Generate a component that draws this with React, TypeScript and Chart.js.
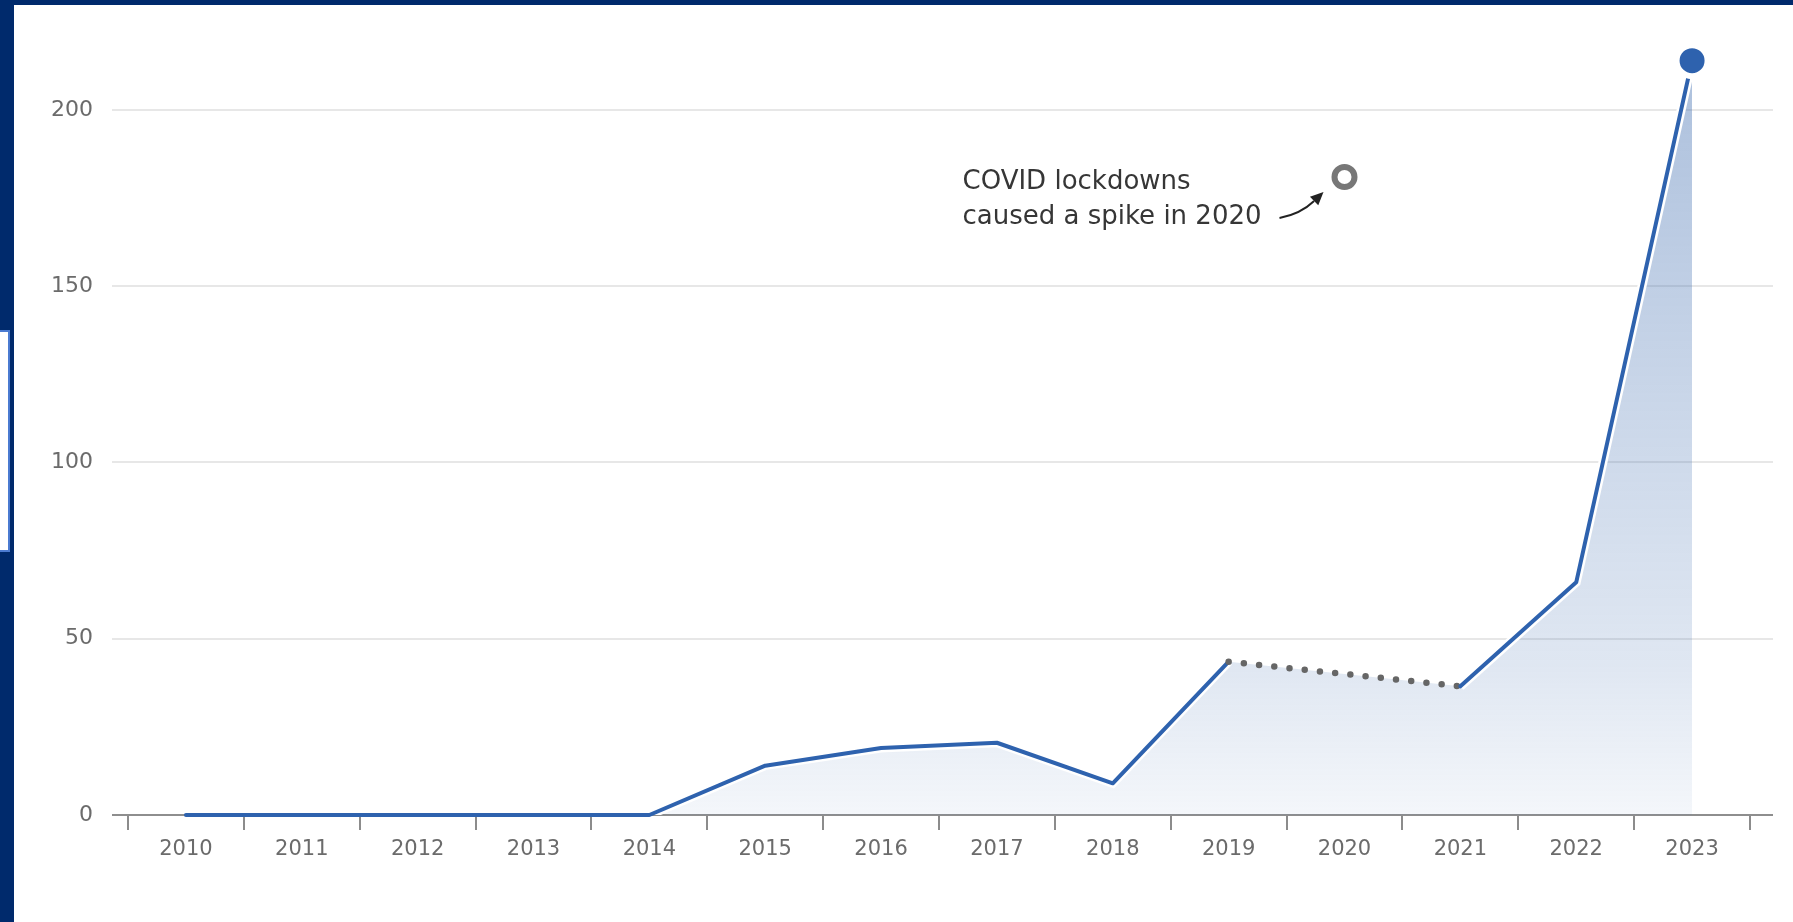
import React, { useEffect, useRef } from "react";
import { Chart, registerables } from "chart.js";

Chart.register(...registerables);

// ---- data ----
const years = ["2010", "2011", "2012", "2013", "2014", "2015", "2016", "2017", "2018", "2019", "2020", "2021", "2022", "2023"];
const values: (number | null)[] = [0, 0, 0, 0, 0, 14, 19, 20.5, 9, 43.5, null, 36.5, 66, 214];
const covidYear = "2020";
const covidValue = 181;
const yTickValues = [0, 50, 100, 150, 200];
const yMax = 220;
const annotationLines = ["COVID lockdowns", "caused a spike in 2020"];

const covidSeries = years.map((y) => (y === covidYear ? covidValue : null));

const BLUE = "rgb(46,98,174)";
const NAVY = "#002a6c";
const FONT = "'DejaVu Sans', sans-serif";

const isGap = (ctx: any) =>
  ctx.p1DataIndex - ctx.p0DataIndex > 1 ||
  values[ctx.p0DataIndex] == null ||
  values[ctx.p1DataIndex] == null;

const gridPlugin = {
  id: "gridPlugin",
  beforeDatasetsDraw(chart: any) {
    const { ctx, chartArea, scales } = chart;
    const y = scales.y;
    const x0 = chartArea.left - 16;
    const x1 = chartArea.right + 23;
    ctx.save();
    ctx.lineWidth = 2;
    ctx.strokeStyle = "#e7e7e7";
    yTickValues.forEach((v) => {
      if (v === 0) return;
      const py = Math.round(y.getPixelForValue(v));
      ctx.beginPath();
      ctx.moveTo(x0, py);
      ctx.lineTo(x1, py);
      ctx.stroke();
    });
    const p0 = Math.round(y.getPixelForValue(0));
    ctx.strokeStyle = "#8e8e8e";
    ctx.beginPath();
    ctx.moveTo(x0, p0);
    ctx.lineTo(x1, p0);
    ctx.stroke();
    ctx.restore();
  },
};

const annotationPlugin = {
  id: "annotationPlugin",
  afterDatasetsDraw(chart: any) {
    const { ctx } = chart;
    const meta = chart.getDatasetMeta(0);
    const idx = years.indexOf(covidYear);
    const pt = meta.data[idx];
    if (!pt) return;
    const px = pt.x;
    const py = pt.y;
    ctx.save();
    ctx.fillStyle = "#363636";
    ctx.font = `26px ${FONT}`;
    ctx.textAlign = "left";
    ctx.textBaseline = "alphabetic";
    ctx.fillText(annotationLines[0], px - 382, py + 12);
    ctx.fillText(annotationLines[1], px - 382, py + 47);

    // arrow
    const sx = px - 65, sy = py + 41;
    const cx = px - 44, cy = py + 37;
    const tx = px - 21, ty = py + 15;
    const ang = Math.atan2(ty - cy, tx - cx);
    const headLen = 13;
    const bx = tx - Math.cos(ang) * headLen;
    const by = ty - Math.sin(ang) * headLen;
    ctx.strokeStyle = "#222";
    ctx.lineWidth = 2;
    ctx.beginPath();
    ctx.moveTo(sx, sy);
    ctx.quadraticCurveTo(cx, cy, bx, by);
    ctx.stroke();
    ctx.fillStyle = "#222";
    ctx.beginPath();
    ctx.moveTo(tx, ty);
    ctx.lineTo(bx + Math.cos(ang + Math.PI / 2) * 6, by + Math.sin(ang + Math.PI / 2) * 6);
    ctx.lineTo(bx + Math.cos(ang - Math.PI / 2) * 6, by + Math.sin(ang - Math.PI / 2) * 6);
    ctx.closePath();
    ctx.fill();
    ctx.restore();
  },
};

export default function App() {
  const ref = useRef<HTMLCanvasElement>(null);

  useEffect(() => {
    if (!ref.current) return;
    const lastIdx = values.length - 1;
    const chart = new Chart(ref.current, {
      type: "line",
      data: {
        labels: years,
        datasets: [
          {
            data: covidSeries,
            showLine: false,
            pointRadius: 10,
            pointHoverRadius: 10,
            pointBorderWidth: 6,
            pointBorderColor: "#777777",
            pointBackgroundColor: "#ffffff",
            order: 0,
            clip: false,
          } as any,
          {
            data: values,
            borderColor: BLUE,
            borderWidth: 4,
            fill: false,
            spanGaps: true,
            tension: 0,
            borderJoinStyle: "round",
            borderCapStyle: "round",
            pointRadius: (c: any) => (c.dataIndex === lastIdx ? 15.5 : 0),
            pointHoverRadius: (c: any) => (c.dataIndex === lastIdx ? 15.5 : 0),
            pointBackgroundColor: BLUE,
            pointBorderColor: "#ffffff",
            pointBorderWidth: 6,
            segment: {
              borderColor: (c: any) => (isGap(c) ? "#666666" : undefined),
              borderDash: (c: any) => (isGap(c) ? [0, 15.3] : undefined),
              borderWidth: (c: any) => (isGap(c) ? 6.5 : undefined),
            },
            order: 1,
            clip: false,
          } as any,
          {
            data: values,
            borderColor: "#ffffff",
            borderWidth: 9,
            spanGaps: true,
            tension: 0,
            pointRadius: 0,
            pointHoverRadius: 0,
            fill: false,
            segment: {
              borderColor: (c: any) => (isGap(c) ? "rgba(255,255,255,0)" : undefined),
            },
            order: 2,
          } as any,
          {
            data: values,
            borderWidth: 0,
            borderColor: "rgba(0,0,0,0)",
            spanGaps: true,
            tension: 0,
            pointRadius: 0,
            pointHoverRadius: 0,
            fill: "origin",
            backgroundColor: (c: any) => {
              const { chart: ch } = c;
              const area = ch.chartArea;
              if (!area) return "rgba(67,112,177,0.2)";
              const top = ch.scales.y.getPixelForValue(Math.max(...(values.filter((v) => v != null) as number[])));
              const g = ch.ctx.createLinearGradient(0, top, 0, area.bottom);
              g.addColorStop(0, "rgba(67,112,177,0.44)");
              g.addColorStop(0.4, "rgba(67,112,177,0.30)");
              g.addColorStop(0.8, "rgba(67,112,177,0.17)");
              g.addColorStop(1, "rgba(67,112,177,0.06)");
              return g;
            },
            order: 3,
          } as any,
        ],
      },
      options: {
        animation: false,
        responsive: false,
        devicePixelRatio: 1,
        events: [],
        layout: { padding: { left: 0, right: 43, top: 39.5, bottom: 47 } },
        plugins: {
          legend: { display: false },
          tooltip: { enabled: false },
        },
        scales: {
          x: {
            type: "category",
            offset: true,
            grid: {
              display: true,
              drawOnChartArea: false,
              drawTicks: true,
              tickLength: 15,
              color: "#8c8c8c",
              lineWidth: 2,
              offset: true,
            },
            border: { display: false },
            ticks: {
              color: "#6b6b6b",
              font: { family: FONT, size: 21 },
              padding: 7,
              maxRotation: 0,
              autoSkip: false,
            },
            afterFit: (s: any) => {
              s.height = 60;
            },
          },
          y: {
            min: 0,
            max: yMax,
            grid: { display: false, drawTicks: true, tickLength: 35 },
            border: { display: false },
            ticks: {
              stepSize: 50,
              includeBounds: false,
              padding: 0,
              color: "#6b6b6b",
              font: { family: FONT, size: 22 },
            },
            afterFit: (s: any) => {
              s.width = 128;
            },
          },
        },
      } as any,
      plugins: [gridPlugin, annotationPlugin],
    });
    return () => chart.destroy();
  }, []);

  return (
    <div
      style={{
        position: "fixed",
        left: 0,
        top: 0,
        width: 1793,
        height: 922,
        background: "#ffffff",
        overflow: "hidden",
      }}
    >
      <canvas
        ref={ref}
        width={1793}
        height={922}
        style={{ position: "absolute", left: 0, top: 0, width: 1793, height: 922 }}
      />
      <div style={{ position: "absolute", left: 0, top: 0, width: 14, height: 922, background: NAVY }} />
      <div style={{ position: "absolute", left: 0, top: 0, width: 1793, height: 5, background: NAVY }} />
      <div
        style={{
          position: "absolute",
          left: 0,
          top: 330,
          width: 10,
          height: 222,
          boxSizing: "border-box",
          background: "#ffffff",
          border: "2px solid #4b7bd1",
          borderLeft: "none",
        }}
      />
    </div>
  );
}
